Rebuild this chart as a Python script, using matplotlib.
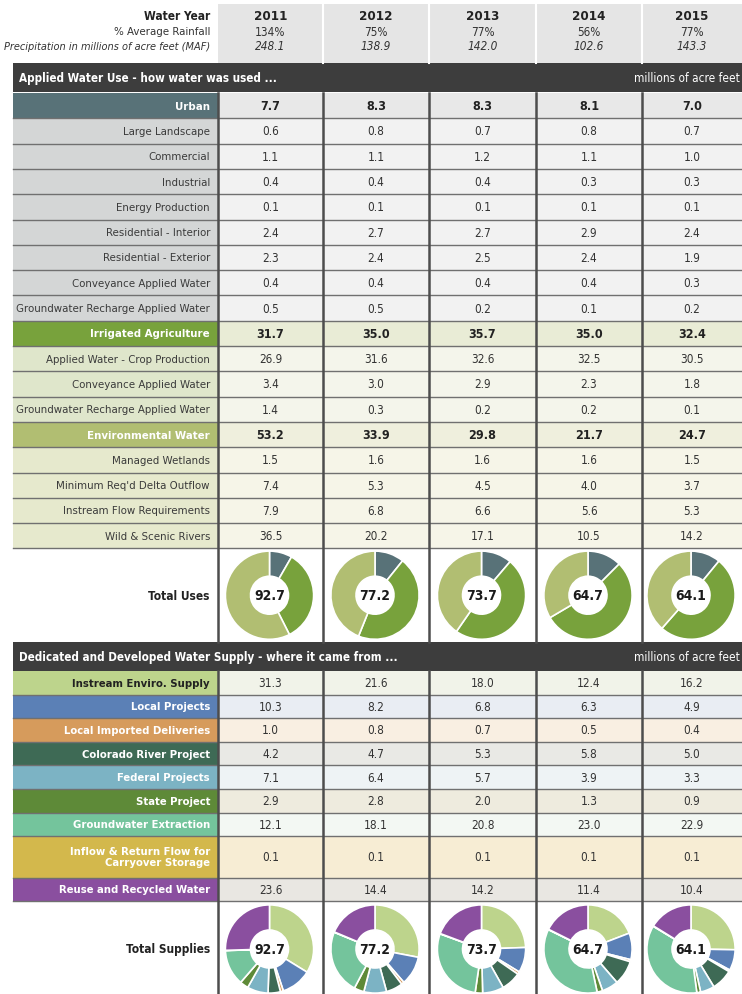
import matplotlib.pyplot as plt
from matplotlib.patches import Rectangle

# header
years = ['2011', '2012', '2013', '2014', '2015']
rainfall = ['134%', '75%', '77%', '56%', '77%']
precip = [248.1, 138.9, 142.0, 102.6, 143.3]

# applied water use (MAF)
urban = [7.7, 8.3, 8.3, 8.1, 7.0]
urban_labels = ['Large Landscape', 'Commercial', 'Industrial', 'Energy Production',
                'Residential - Interior', 'Residential - Exterior',
                'Conveyance Applied Water', 'Groundwater Recharge Applied Water']
urban_values = [
    [0.6, 0.8, 0.7, 0.8, 0.7],
    [1.1, 1.1, 1.2, 1.1, 1.0],
    [0.4, 0.4, 0.4, 0.3, 0.3],
    [0.1, 0.1, 0.1, 0.1, 0.1],
    [2.4, 2.7, 2.7, 2.9, 2.4],
    [2.3, 2.4, 2.5, 2.4, 1.9],
    [0.4, 0.4, 0.4, 0.4, 0.3],
    [0.5, 0.5, 0.2, 0.1, 0.2],
]
irrigated_ag = [31.7, 35.0, 35.7, 35.0, 32.4]
ag_labels = ['Applied Water - Crop Production', 'Conveyance Applied Water',
             'Groundwater Recharge Applied Water']
ag_values = [
    [26.9, 31.6, 32.6, 32.5, 30.5],
    [3.4, 3.0, 2.9, 2.3, 1.8],
    [1.4, 0.3, 0.2, 0.2, 0.1],
]
env_water = [53.2, 33.9, 29.8, 21.7, 24.7]
env_labels = ['Managed Wetlands', "Minimum Req'd Delta Outflow",
              'Instream Flow Requirements', 'Wild & Scenic Rivers']
env_values = [
    [1.5, 1.6, 1.6, 1.6, 1.5],
    [7.4, 5.3, 4.5, 4.0, 3.7],
    [7.9, 6.8, 6.6, 5.6, 5.3],
    [36.5, 20.2, 17.1, 10.5, 14.2],
]
total_uses = [92.7, 77.2, 73.7, 64.7, 64.1]

# dedicated and developed supply (MAF)
supply_labels = ['Instream Enviro. Supply', 'Local Projects', 'Local Imported Deliveries',
                 'Colorado River Project', 'Federal Projects', 'State Project',
                 'Groundwater Extraction', 'Inflow & Return Flow for\nCarryover Storage',
                 'Reuse and Recycled Water']
supply_values = [
    [31.3, 21.6, 18.0, 12.4, 16.2],
    [10.3, 8.2, 6.8, 6.3, 4.9],
    [1.0, 0.8, 0.7, 0.5, 0.4],
    [4.2, 4.7, 5.3, 5.8, 5.0],
    [7.1, 6.4, 5.7, 3.9, 3.3],
    [2.9, 2.8, 2.0, 1.3, 0.9],
    [12.1, 18.1, 20.8, 23.0, 22.9],
    [0.1, 0.1, 0.1, 0.1, 0.1],
    [23.6, 14.4, 14.2, 11.4, 10.4],
]
total_supplies = [92.7, 77.2, 73.7, 64.7, 64.1]

# colours
urban_c, ag_c, env_c = '#587278', '#78a23c', '#b1be72'
supply_colors = ['#bdd48c', '#5b80b6', '#d69b5c', '#3e6a55', '#7cb3c4',
                 '#5e8a38', '#74c49c', '#d3b84c', '#8a4f9f']
supply_cell_bg = ['#f1f3e9', '#e9edf3', '#f9efe2', '#e9e9e5', '#eef3f5',
                  '#eeebde', '#f3f8f3', '#f7edd4', '#e9e7e2']

plt.rcParams['font.family'] = ['DejaVu Sans']
plt.rcParams['font.stretch'] = 'condensed'

W, H = 742, 995
fig = plt.figure(figsize=(W / 100, H / 100), dpi=100)
ax = fig.add_axes([0, 0, 1, 1])
ax.set_xlim(0, W)
ax.set_ylim(H, 0)
ax.axis('off')

x_left = 13
lab_x = 210
edges = [218, 323, 429, 536, 642, 742]
centers = [(edges[i] + edges[i + 1]) / 2 for i in range(5)]
TXT = '#333333'


def box(x0, x1, y0, y1, color):
    ax.add_patch(Rectangle((x0, y0), x1 - x0, y1 - y0, facecolor=color, edgecolor='none'))


# header block
for i in range(5):
    box(edges[i], edges[i + 1], 5, 64, '#e5e5e5')
    ax.text(centers[i], 17, years[i], ha='center', va='center', fontsize=9.5, fontweight='bold', color='#222')
    ax.text(centers[i], 32, rainfall[i], ha='center', va='center', fontsize=8.5, color=TXT)
    ax.text(centers[i], 47, f'{precip[i]:.1f}', ha='center', va='center', fontsize=8.5, style='italic', color=TXT)
for x in edges[1:5]:
    ax.plot([x, x], [5, 64], color='white', lw=1.5)
ax.text(lab_x, 17, 'Water Year', ha='right', va='center', fontsize=8.6, fontweight='bold', color='#222')
ax.text(lab_x, 32, '% Average Rainfall', ha='right', va='center', fontsize=8.2, color=TXT)
ax.text(lab_x, 47, 'Precipitation in millions of acre feet (MAF)', ha='right', va='center',
        fontsize=7.8, style='italic', color=TXT)


def section_bar(y0, y1, title):
    box(x_left, W, y0, y1, '#3d3d3d')
    ym = (y0 + y1) / 2
    ax.text(x_left + 6, ym, title, ha='left', va='center', fontsize=8.4, fontweight='bold', color='white')
    ax.text(W - 2, ym, 'millions of acre feet', ha='right', va='center', fontsize=8.5, color='white')


section_bar(64, 93, 'Applied Water Use - how water was used ...')

# applied water rows
uses_rows = []
for name, vals, sub_names, sub_vals, col, lab_sub, val_main, val_sub in [
        ('Urban', urban, urban_labels, urban_values, urban_c, '#d4d6d6', '#e8e8e8', '#f2f2f2'),
        ('Irrigated Agriculture', irrigated_ag, ag_labels, ag_values, ag_c, '#dfe6cb', '#e9ecd6', '#f4f5eb'),
        ('Environmental Water', env_water, env_labels, env_values, env_c, '#e6e9cd', '#efefdd', '#f6f5e8')]:
    uses_rows.append((name, vals, col, 'white', True, val_main))
    for sn, sv in zip(sub_names, sub_vals):
        uses_rows.append((sn, sv, lab_sub, '#3a3a3a', False, val_sub))

y_top = 94
pitch = 25.3
ys = []
for k, (name, vals, lab_bg, lab_fg, bold, val_bg) in enumerate(uses_rows):
    y0 = y_top + k * pitch
    y1 = y0 + pitch
    ym = (y0 + y1) / 2
    box(x_left, edges[0], y0, y1, lab_bg)
    box(edges[0], W, y0, y1, val_bg)
    ax.text(lab_x, ym, name, ha='right', va='center', fontsize=8.2,
            fontweight='bold' if bold else 'normal', color=lab_fg)
    for i in range(5):
        ax.text(centers[i], ym, f'{vals[i]:.1f}', ha='center', va='center',
                fontsize=9 if bold else 8.5, fontweight='bold' if bold else 'normal',
                color='#222' if bold else TXT)
    ys.append(y0)
uses_bottom = y_top + len(uses_rows) * pitch
for y in ys[1:] + [uses_bottom]:
    ax.plot([x_left, W], [y, y], color='#707070', lw=1)

donut1_top, donut1_bot = uses_bottom, 643
section_bar(643, 672, 'Dedicated and Developed Water Supply - where it came from ...')

# supply rows
s_pitch = 23.6
heights = [s_pitch] * len(supply_labels)
heights[7] = s_pitch * 1.75
y0 = 672
s_lines = []
for k, name in enumerate(supply_labels):
    y1 = y0 + heights[k]
    ym = (y0 + y1) / 2
    box(x_left, edges[0], y0, y1, supply_colors[k])
    box(edges[0], W, y0, y1, supply_cell_bg[k])
    ax.text(lab_x, ym, name, ha='right', va='center', multialignment='right', fontsize=8.1,
            fontweight='bold', color='#222' if k == 0 else 'white', linespacing=1.1)
    for i in range(5):
        ax.text(centers[i], ym, f'{supply_values[k][i]:.1f}', ha='center', va='center',
                fontsize=8.5, color=TXT)
    if k > 0:
        s_lines.append(y0)
    y0 = y1
supply_bottom = y0
for y in s_lines + [supply_bottom]:
    ax.plot([x_left, W], [y, y], color='#707070', lw=1)

# column separators
for x in edges[:5]:
    ax.plot([x, x], [94, 643], color='#4d4d4d', lw=1.8)
    ax.plot([x, x], [672, H], color='#4d4d4d', lw=1.8)

ax.text(lab_x, (donut1_top + donut1_bot) / 2, 'Total Uses', ha='right', va='center',
        fontsize=8.6, fontweight='bold', color='#222')
ax.text(lab_x, 950, 'Total Supplies', ha='right', va='center',
        fontsize=8.6, fontweight='bold', color='#222')


def donut(cx, cy, r, vals, colors, total):
    d = fig.add_axes([(cx - r) / W, 1 - (cy + r) / H, 2 * r / W, 2 * r / H])
    d.pie(vals, colors=colors, startangle=90, counterclock=False, radius=1,
          wedgeprops=dict(width=0.57, edgecolor='white', linewidth=1.2))
    d.set_xlim(-1.02, 1.02)
    d.set_ylim(-1.02, 1.02)
    d.set_aspect('equal')
    d.axis('off')
    d.text(0, 0, f'{total:.1f}', ha='center', va='center', fontsize=10, fontweight='bold', color='#1a1a1a')


for i in range(5):
    donut(centers[i] - 1, (donut1_top + donut1_bot) / 2, 45,
          [urban[i], irrigated_ag[i], env_water[i]], [urban_c, ag_c, env_c], total_uses[i])
    donut(centers[i] - 1, 950, 45, [row[i] for row in supply_values], supply_colors, total_supplies[i])

fig.savefig('out.png', dpi=100)
